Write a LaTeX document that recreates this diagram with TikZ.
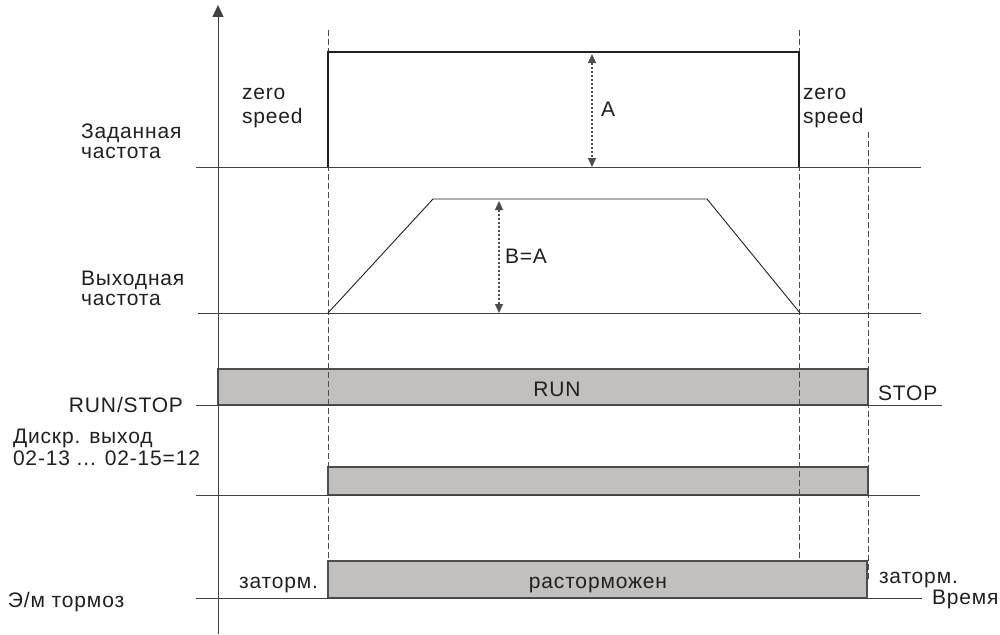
\documentclass[tikz,border=0pt]{standalone}
\usepackage{fontspec}
\setmainfont{Liberation Sans}[LetterSpace=4]
\usetikzlibrary{arrows.meta}
\definecolor{barfill}{RGB}{193,192,190}
\definecolor{ink}{RGB}{35,31,32}
\tikzset{
  every node/.style={inner sep=0pt, outer sep=0pt, text=ink, font=\fontsize{21}{20}\selectfont},
  ln/.style={draw=ink!85, line width=1pt},
  sig/.style={draw=ink, line width=1.1pt},
  bar/.style={fill=barfill, draw=ink!80, line width=1.1pt},
  guide/.style={draw=ink!80, line width=0.9pt, dash pattern=on 6pt off 3pt},
  dim/.style={draw=ink!80, line width=1.3pt, dash pattern=on 2.5pt off 1.5pt,
    {Triangle[width=8pt,length=9pt]}-{Triangle[width=8pt,length=9pt]}},
  lbl/.style={anchor=base west, align=left},
}
\begin{document}
\begin{tikzpicture}[x=1pt,y=-1pt]
\useasboundingbox (0,0) rectangle (1000,634);
% key coordinates
\coordinate (ax0) at (218,634);
\coordinate (ax1) at (218,5);
\coordinate (t1top) at (328,30);
\coordinate (t1bot) at (328,561);
\coordinate (t2top) at (799,30);
\coordinate (t2bot) at (799,561);
\coordinate (t3top) at (868,132);
\coordinate (t3bot) at (868,580);
% set frequency
\coordinate (sf0) at (196,167);
\coordinate (sf1) at (921,167);
\coordinate (p0) at (328,167);
\coordinate (p1) at (328,52);
\coordinate (p2) at (799,52);
\coordinate (p3) at (799,167);
% output frequency
\coordinate (of0) at (198,313);
\coordinate (of1) at (921,313);
\coordinate (r0) at (328,313);
\coordinate (r1) at (433,199);
\coordinate (r2) at (707,199);
\coordinate (r3) at (800,313);
% dimension arrows
\coordinate (a0) at (592,54);
\coordinate (a1) at (592,167);
\coordinate (b0) at (499,201);
\coordinate (b1) at (499,313);
% baselines of digital signals
\coordinate (rs0) at (196,405);
\coordinate (rs1) at (942,405);
\coordinate (do0) at (196,495);
\coordinate (do1) at (920,495);
\coordinate (br0) at (196,598);
\coordinate (br1) at (922,598);

% bars
\path[bar] (218,369) rectangle (868,405);
\path[bar] (328,467) rectangle (868,495);
\path[bar] (328,561) rectangle (867,598);

% guides
\draw[guide] (t1top) -- (t1bot);
\draw[guide] (t2top) -- (t2bot);
\draw[guide] (t3top) -- (t3bot);

% axis
\draw[ln, -{Triangle[width=11pt,length=12pt]}] (ax0) -- (ax1);

% traces
\draw[ln] (sf0) -- (sf1);
\draw[sig] (p0) -- (p1) -- (p2) -- (p3);
\draw[ln] (of0) -- (of1);
\draw[sig, line width=0.9pt] (r0) -- (r1) -- (r2) -- (r3);
\draw[ln] (rs0) -- (rs1);
\draw[ln] (do0) -- (do1);
\draw[ln] (br0) -- (br1);

% dimensions
\draw[dim] (a0) -- (a1);
\draw[dim] (b0) -- (b1);

% labels
\node[lbl] (lA) at (601,116) {A};
\node[lbl] (lB) at (505,263) {B=A};
\node[lbl] (lsf) at (81,158) {Заданная\\[0pt]частота};
\node[lbl] (lof) at (81,305) {Выходная\\[0pt]частота};
\node[lbl] (zs1) at (242,123) {zero\\[4pt]speed};
\node[lbl] (zs2) at (803,123) {zero\\[4pt]speed};
\node[anchor=base east] (lrs) at (183,412) {RUN/STOP};
\node[anchor=base] (run) at (557,396) {RUN};
\node[lbl] (stop) at (878,400) {STOP};
\node[lbl] (ldo) at (13,465) {Дискр. выход\\[2pt]02-13 ... 02-15=12};
\node[anchor=base east] (zt1) at (318,588) {заторм.};
\node[anchor=base] (rz) at (598,588) {расторможен};
\node[lbl] (zt2) at (879,583) {заторм.};
\node[lbl] (time) at (932,604) {Время};
\node[lbl] (lbr) at (8,607) {Э/м тормоз};
\end{tikzpicture}
\end{document}
